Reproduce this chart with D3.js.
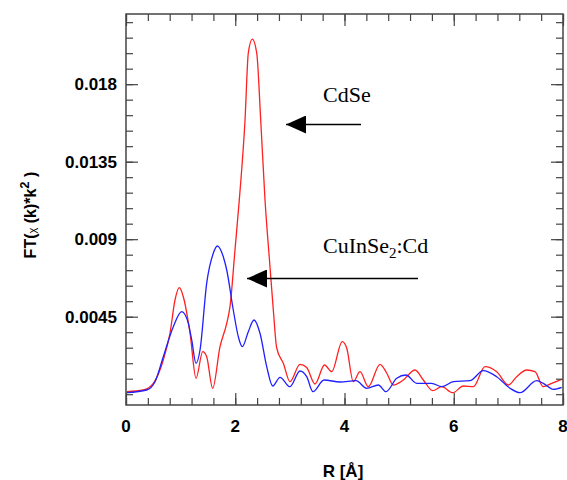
<html>
<head>
<style>
  body { margin: 0; background: #fff; }
  svg { font-family: "Liberation Sans", Arial, sans-serif; }
</style>
<script src="https://d3js.org/d3.v7.min.js"></script>
</head>
<body>
<script>
// R values (Å) and FT amplitudes
var cdseR  = [0.013,0.317,0.500,0.683,0.806,0.897,0.976,1.049,1.172,1.282,1.404,1.477,1.587,1.721,1.844,1.904,1.995,2.074,2.179,2.239,2.312,2.393,2.466,2.545,2.636,2.697,2.759,2.880,3.002,3.185,3.308,3.460,3.634,3.766,3.958,4.040,4.161,4.284,4.436,4.650,4.772,4.893,5.076,5.291,5.443,5.615,5.779,5.981,6.175,6.358,6.572,6.786,6.999,7.152,7.335,7.487,7.639,7.793,7.976];
var cdseFT = [0.000145,0.000244,0.000633,0.001986,0.003553,0.005469,0.006183,0.005661,0.003553,0.000923,0.002468,0.002177,0.000343,0.002758,0.004116,0.00508,0.008372,0.011275,0.01592,0.01981,0.02061,0.01981,0.01592,0.011275,0.0074,0.004889,0.002682,0.001794,0.000726,0.001736,0.00155,0.000592,0.001695,0.001306,0.003048,0.002682,0.000726,0.001306,0.000435,0.001736,0.001231,0.000534,0.000824,0.001405,0.000824,0.000203,0.000435,0.000087,0.000476,0.000435,0.001597,0.001306,0.000534,0.001016,0.001405,0.001306,0.000435,0.000633,0.000865];

var cisR  = [0.013,0.379,0.531,0.683,0.866,1.020,1.141,1.203,1.282,1.355,1.477,1.598,1.671,1.781,1.844,1.964,2.056,2.129,2.239,2.343,2.453,2.576,2.686,2.819,3.002,3.185,3.308,3.423,3.625,3.918,4.211,4.407,4.619,4.760,4.956,5.126,5.322,5.597,5.779,5.992,6.297,6.541,6.786,7.030,7.213,7.518,7.639,7.822,7.976];
var cisFT = [0.000087,0.000244,0.000726,0.002177,0.003919,0.00479,0.004116,0.003147,0.001794,0.002566,0.006439,0.008181,0.008604,0.007983,0.007211,0.004889,0.003338,0.002758,0.003629,0.004308,0.003536,0.001597,0.000476,0.000981,0.000435,0.001347,0.001016,0.000145,0.000824,0.000708,0.000784,0.000343,0.000534,0.000145,0.000923,0.001115,0.000633,0.000633,0.000435,0.000726,0.000784,0.001364,0.001016,0.000343,0.000087,0.000784,0.000633,0.000284,0.0004];

var yLabels = [0.0045, 0.009, 0.0135, 0.018];
var xLabels = [0, 2, 4, 6, 8];

var W = 567, H = 480;
var pLeft = 126, pRight = 563, pTop = 14, pBottom = 405;

var svg = d3.select("body").append("svg")
    .attr("width", W)
    .attr("height", H);

var x = d3.scaleLinear().domain([0, 8]).range([pLeft, pRight]);
var y = d3.scaleLinear().domain([-0.000627, 0.022074]).range([pBottom, pTop]);

//----- curves
var line = d3.line()
    .x(d => x(d[0]))
    .y(d => y(d[1]))
    .curve(d3.curveMonotoneX);

svg.append("path")
    .datum(d3.zip(cdseR, cdseFT))
    .attr("fill", "none")
    .attr("stroke", "#ff2020")
    .attr("stroke-width", 1.3)
    .attr("d", line);

svg.append("path")
    .datum(d3.zip(cisR, cisFT))
    .attr("fill", "none")
    .attr("stroke", "#2020ff")
    .attr("stroke-width", 1.3)
    .attr("d", line);

//----- frame with ticks on all four sides
var axisCol = "#444";
var xMinor = d3.range(0, 8.001, 0.4);
var yMinor = d3.range(0, 0.0220, 0.0009);

function ticks(g, axis) {
  g.call(axis);
  g.select(".domain").remove();
  g.selectAll(".tick line").attr("stroke", axisCol).attr("stroke-width", 1.2);
}

svg.append("g").attr("transform", `translate(0,${pBottom})`)
  .call(ticks, d3.axisTop(x).tickValues(xMinor).tickSizeInner(7).tickSizeOuter(0).tickFormat(""));
svg.append("g").attr("transform", `translate(0,${pTop})`)
  .call(ticks, d3.axisBottom(x).tickValues(xMinor).tickSizeInner(7).tickSizeOuter(0).tickFormat(""));
svg.append("g").attr("transform", `translate(0,${pBottom})`)
  .call(ticks, d3.axisTop(x).tickValues(xLabels).tickSizeInner(12).tickSizeOuter(0).tickFormat(""));
svg.append("g").attr("transform", `translate(0,${pTop})`)
  .call(ticks, d3.axisBottom(x).tickValues(xLabels).tickSizeInner(12).tickSizeOuter(0).tickFormat(""));

svg.append("g").attr("transform", `translate(${pLeft},0)`)
  .call(ticks, d3.axisRight(y).tickValues(yMinor).tickSizeInner(7).tickSizeOuter(0).tickFormat(""));
svg.append("g").attr("transform", `translate(${pRight},0)`)
  .call(ticks, d3.axisLeft(y).tickValues(yMinor).tickSizeInner(7).tickSizeOuter(0).tickFormat(""));
svg.append("g").attr("transform", `translate(${pLeft},0)`)
  .call(ticks, d3.axisRight(y).tickValues(yLabels).tickSizeInner(12).tickSizeOuter(0).tickFormat(""));
svg.append("g").attr("transform", `translate(${pRight},0)`)
  .call(ticks, d3.axisLeft(y).tickValues(yLabels).tickSizeInner(12).tickSizeOuter(0).tickFormat(""));

svg.append("rect")
    .attr("x", pLeft).attr("y", pTop)
    .attr("width", pRight - pLeft).attr("height", pBottom - pTop)
    .attr("fill", "none")
    .attr("stroke", axisCol)
    .attr("stroke-width", 1.5);

//----- tick labels
svg.append("g").selectAll("text")
  .data(yLabels)
  .join("text")
    .attr("x", pLeft - 9)
    .attr("y", d => y(d) + 6)
    .attr("text-anchor", "end")
    .attr("font-size", 17)
    .attr("font-weight", "bold")
    .text(d => d);

svg.append("g").selectAll("text")
  .data(xLabels)
  .join("text")
    .attr("x", d => x(d))
    .attr("y", 432)
    .attr("text-anchor", "middle")
    .attr("font-size", 17)
    .attr("font-weight", "bold")
    .text(d => d);

//----- axis titles
svg.append("text")
    .attr("x", 343).attr("y", 477)
    .attr("text-anchor", "middle")
    .attr("font-size", 17)
    .attr("font-weight", "bold")
    .text("R [Å]");

var yt = svg.append("text")
    .attr("transform", "translate(36,215) rotate(-90)")
    .attr("text-anchor", "middle")
    .attr("font-size", 16)
    .attr("font-weight", "bold");
yt.append("tspan").text("FT(");
yt.append("tspan").attr("font-size", 11).attr("font-weight", "normal").text("χ");
yt.append("tspan").text(" (k)*k");
yt.append("tspan").attr("dy", -7).attr("font-size", 13).text("2");
yt.append("tspan").attr("dy", 7).text(" )");

//----- annotations
svg.append("defs").append("marker")
    .attr("id", "head")
    .attr("viewBox", "0 0 20 18")
    .attr("refX", 20).attr("refY", 9)
    .attr("markerWidth", 20).attr("markerHeight", 18)
    .attr("markerUnits", "userSpaceOnUse")
    .attr("orient", "auto")
  .append("path")
    .attr("d", "M20,9L0,0L0,18Z")
    .attr("fill", "#000");

svg.append("text")
    .attr("x", 323).attr("y", 102)
    .attr("font-family", "'Liberation Serif', 'Times New Roman', serif")
    .attr("font-size", 22)
    .text("CdSe");

svg.append("line")
    .attr("x1", 361).attr("y1", 124.5).attr("x2", 286).attr("y2", 124.5)
    .attr("stroke", "#000").attr("stroke-width", 1.5)
    .attr("marker-end", "url(#head)");

var t2 = svg.append("text")
    .attr("x", 323).attr("y", 253)
    .attr("font-family", "'Liberation Serif', 'Times New Roman', serif")
    .attr("font-size", 22);
t2.append("tspan").text("CuInSe");
t2.append("tspan").attr("dy", 5).attr("font-size", 15).text("2");
t2.append("tspan").attr("dy", -5).text(":Cd");

svg.append("line")
    .attr("x1", 418).attr("y1", 278.5).attr("x2", 247).attr("y2", 278.5)
    .attr("stroke", "#000").attr("stroke-width", 1.5)
    .attr("marker-end", "url(#head)");
</script>
</body>
</html>
